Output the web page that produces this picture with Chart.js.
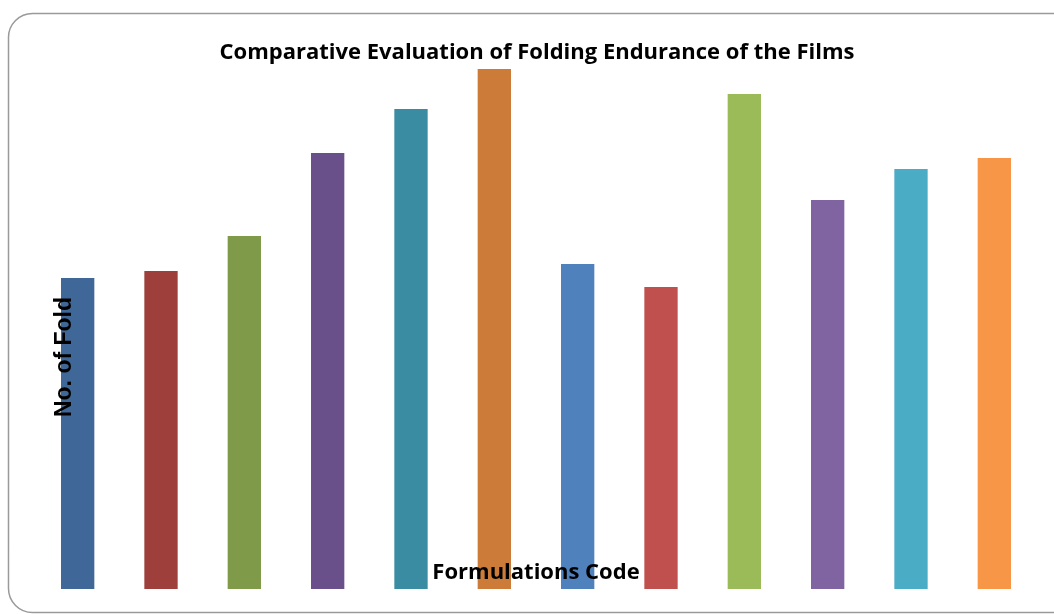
<!DOCTYPE html>
<html>
<head>
<meta charset="utf-8">
<title>Folding Endurance</title>
<script src="https://cdn.jsdelivr.net/npm/chart.js@4/dist/chart.umd.min.js"></script>
<style>
  html, body { margin: 0; padding: 0; background: #fff; }
  #wrap { width: 1054px; height: 614px; position: relative; }
</style>
</head>
<body>
<div id="wrap"><canvas id="c" width="1054" height="614"></canvas></div>
<script>
// Formulation codes (not printed on the chart) and their folding endurance
const formulations = ['F1', 'F2', 'F3', 'F4', 'F5', 'F6', 'F7', 'F8', 'F9', 'F10', 'F11', 'F12'];
const foldCounts = [155.5, 159, 176.5, 218, 240, 260, 162.5, 151, 247.5, 194.5, 210, 215.5];
const barColors = ['#3F6797', '#9E3F3C', '#7F9A48', '#69508A', '#3A8CA3', '#CC7B38',
                   '#4F81BD', '#C0504D', '#9BBB59', '#8064A2', '#4BACC6', '#F79646'];

const chartTitle = 'Comparative Evaluation of Folding Endurance of the Films';
const yTitle = 'No. of Fold';
const xTitle = 'Formulations Code';

// Frame, title and axis captions drawn on top of the plot
const decorations = {
  id: 'decorations',
  beforeDraw(chart) {
    const ctx = chart.ctx;
    ctx.save();
    ctx.fillStyle = '#fff';
    ctx.fillRect(0, 0, chart.width, chart.height);
    ctx.strokeStyle = '#9a9a9a';
    ctx.lineWidth = 1.5;
    ctx.beginPath();
    ctx.roundRect(8.5, 13.5, 1070, 599, 24);
    ctx.stroke();
    ctx.restore();
  },
  afterDatasetsDraw(chart) {
    const ctx = chart.ctx;
    ctx.save();
    ctx.fillStyle = '#000';
    ctx.textAlign = 'center';
    ctx.textBaseline = 'middle';
    ctx.font = 'bold 22px "Open Sans"';
    ctx.fillText(chartTitle, 537, 53);
    ctx.font = 'bold 22px "Open Sans"';
    ctx.fillText(xTitle, 536, 573);
    ctx.translate(65, 357);
    ctx.rotate(-Math.PI / 2);
    ctx.font = 'bold 23px "Liberation Sans"';
    ctx.fillText(yTitle, 0, 0);
    ctx.restore();
  }
};

new Chart(document.getElementById('c'), {
  type: 'bar',
  data: {
    labels: formulations,
    datasets: [{
      data: foldCounts,
      backgroundColor: barColors,
      borderWidth: 0,
      categoryPercentage: 0.8,
      barPercentage: 0.5
    }]
  },
  options: {
    responsive: false,
    animation: false,
    devicePixelRatio: 1,
    layout: { padding: { left: 36, right: 18, top: 59, bottom: 25 } },
    plugins: {
      legend: { display: false },
      title: { display: false },
      tooltip: { enabled: false }
    },
    scales: {
      x: { display: false },
      y: { display: false, min: 0, max: 265 }
    }
  },
  plugins: [decorations]
});
</script>
</body>
</html>
